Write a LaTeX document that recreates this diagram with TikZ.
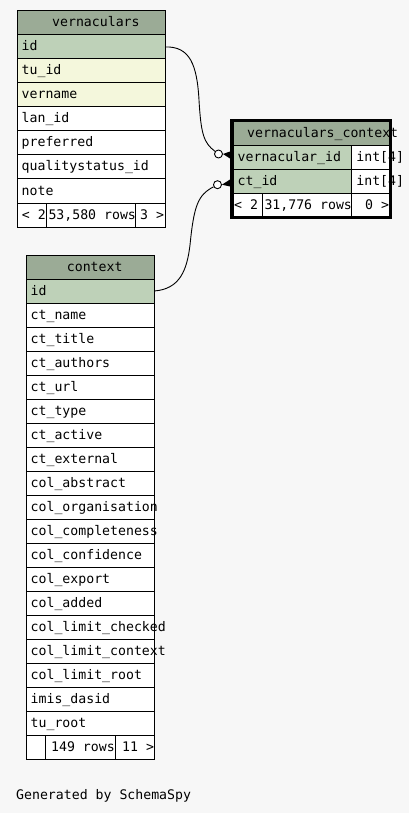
\documentclass[tikz,border=0pt]{standalone}
\usepackage{fontspec}
\setmainfont{DejaVu Sans Mono}
\definecolor{bg}{HTML}{F7F7F7}
\definecolor{head}{HTML}{9BAB96}
\definecolor{pk}{HTML}{BED1B8}
\definecolor{idx}{HTML}{F4F7DC}
\tikzset{
 cell/.style={draw=black, line width=1pt, anchor=north west, minimum height=24pt, inner sep=0pt, outer sep=0pt},
 txt/.style={anchor=base west, inner sep=0pt, font=\fontsize{13.2}{15}\selectfont},
 edge/.style={line width=0.9pt},
 dot/.style={circle, draw=black, fill=white, line width=0.9pt, minimum size=8pt, inner sep=0pt},
 crow/.style={fill=black},
 frame/.style={draw=black, line width=3pt, anchor=north west, inner sep=0pt, outer sep=0pt},
}
\newcommand\trow[6]{%
  \node[cell, fill=#5, minimum width=#4pt] (#1) at (#2,#3) {};
  \node[txt] (#1-t) at ([xshift=4.5pt, yshift=-4pt]#1.west) {#6};}
\newcommand\fcell[4]{%
  \node[cell, fill=white, minimum width=#4pt] (#1) at (#2,#3) {};}
\begin{document}
\begin{tikzpicture}[x=1pt,y=-1pt]
\fill[bg] (0,0) rectangle (409,813);
\useasboundingbox (0,0) rectangle (409,813);

% ---------- vernaculars ----------
\node[cell, fill=head, minimum width=148pt] (vh) at (17,11) {};
\node[txt] (vh-t) at (52,27) {vernaculars};
\trow{vid}{17}{35}{148}{pk}{id}
\trow{vtu}{17}{59}{148}{idx}{tu\_id}
\trow{vvn}{17}{83}{148}{idx}{vername}
\trow{vlan}{17}{107}{148}{white}{lan\_id}
\trow{vpref}{17}{131}{148}{white}{preferred}
\trow{vqs}{17}{155}{148}{white}{qualitystatus\_id}
\trow{vnote}{17}{179}{148}{white}{note}
\fcell{vf1}{17}{203}{29}
\fcell{vf2}{46}{203}{89.7}
\fcell{vf3}{135.7}{203}{29.3}
\node[txt] (vf1-t) at (21.7,219) {< 2};
\node[txt] (vf2-t) at (48.3,219) {53,580 rows};
\node[txt] (vf3-t) at (140,219) {3 >};

% ---------- context ----------
\node[cell, fill=head, minimum width=128.3pt] (ch) at (26,255) {};
\node[txt] (ch-t) at (66.7,271) {context};
\trow{cid}{26}{279}{128.3}{pk}{id}
\foreach \t [count=\i] in {ct\_name,ct\_title,ct\_authors,ct\_url,ct\_type,ct\_active,ct\_external,col\_abstract,col\_organisation,col\_completeness,col\_confidence,col\_export,col\_added,col\_limit\_checked,col\_limit\_context,col\_limit\_root,imis\_dasid,tu\_root}{
  \pgfmathsetmacro\yy{279+24*\i}
  \trow{c\i}{26}{\yy}{128.3}{white}{\t}
}
\fcell{cf1}{26}{735}{19.7}
\fcell{cf2}{45.7}{735}{70}
\fcell{cf3}{115.7}{735}{38.6}
\node[txt] (cf2-t) at (51,751) {149 rows};
\node[txt] (cf3-t) at (122,751) {11 >};

% ---------- vernaculars_context ----------
\node[cell, fill=head, minimum width=157pt] (vch) at (233,121.5) {};
\node[txt] (vch-t) at (247,137.5) {vernaculars\_context};
\trow{vcv}{233}{145.5}{118.7}{pk}{vernacular\_id}
\trow{vcvt}{351.7}{145.5}{38.3}{white}{int[4]}
\trow{vcc}{233}{169.5}{118.7}{pk}{ct\_id}
\trow{vcct}{351.7}{169.5}{38.3}{white}{int[4]}
\fcell{vcf1}{233}{193.5}{29.3}
\fcell{vcf2}{262.3}{193.5}{89.4}
\fcell{vcf3}{351.7}{193.5}{38.3}
\node[txt] (vcf1-t) at (234,209.5) {< 2};
\node[txt] (vcf2-t) at (264.3,209.5) {31,776 rows};
\node[txt] (vcf3-t) at (365,209.5) {0 >};
\node[frame, minimum width=159pt, minimum height=97pt] (vc) at (231.5,120.5) {};

% ---------- relationships ----------
\node[dot] (c1) at (218.5,154) {};
\node[dot] (c2) at (217.5,184.7) {};
\draw[edge] (vid.east) .. controls (190,46) and (197,65) .. (199,100)
  .. controls (201,135) and (204,143) .. (c1);
\draw[edge] (cid.east) .. controls (180,289) and (187,270) .. (190,245)
  .. controls (194,205) and (198,195) .. (c2);
\fill[crow] (c1.east) -- (230,151.5) -- (230,158.5) -- cycle;
\fill[crow] (c2.east) -- (230,179.5) -- (230,186.5) -- cycle;

% ---------- footer ----------
\node[txt] (gen) at (16,799) {Generated by SchemaSpy};
\end{tikzpicture}
\end{document}
